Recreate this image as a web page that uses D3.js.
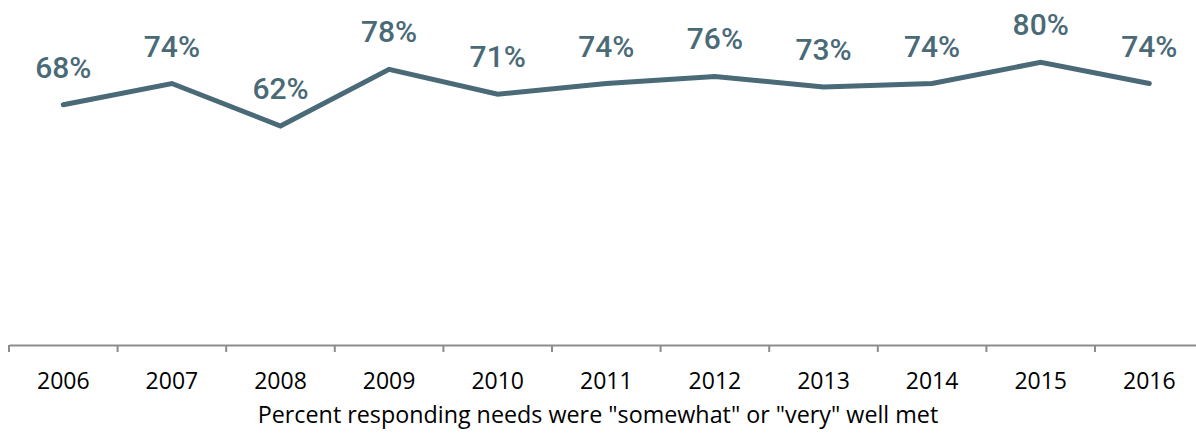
<!DOCTYPE html>
<html>
<head>
<meta charset="utf-8">
<script src="https://cdn.jsdelivr.net/npm/d3@7"></script>
<style>
  body { margin: 0; background: #fff; }
  svg { display: block; }
</style>
</head>
<body>
<div id="chart"></div>
<script>
// data
var years = ['2006', '2007', '2008', '2009', '2010', '2011', '2012', '2013', '2014', '2015', '2016']
var values = [68, 74, 62, 78, 71, 74, 76, 73, 74, 80, 74]
var valueLabels = ['68%', '74%', '62%', '78%', '71%', '74%', '76%', '73%', '74%', '80%', '74%']
var axisTitle = 'Percent responding needs were "somewhat" or "very" well met'

var width = 1196
var height = 435
var lineColor = '#4a6a77'

var svg = d3.select('#chart')
    .append('svg')
    .attr('width', width)
    .attr('height', height)

// category band scale, points sit in the middle of each band
var x = d3.scaleBand()
    .domain(years)
    .range([9, 9 + 11 * 108.6])
    .padding(0)

var y = d3.scaleLinear()
    .domain([0, 100])
    .range([345.5, -8.5])

var data = years.map(function (d, i) {
    return { year: d, value: values[i], label: valueLabels[i] }
})

//x axis
var axis = svg.append('g')
    .attr('transform', 'translate(0,' + 345 + ')')
    .call(d3.axisBottom(x).tickSize(0).tickSizeOuter(0).tickPadding(28))

axis.select('.domain')
    .attr('stroke', '#8c8c8c')
    .attr('stroke-width', 2)

axis.selectAll('.tick text')
    .attr('font-family', '"Open Sans", sans-serif')
    .attr('font-size', 23)
    .attr('fill', '#000')

// tick marks on band boundaries
axis.selectAll('line.sep')
    .data(years)
    .enter().append('line')
    .attr('class', 'sep')
    .attr('x1', function (d) { return x(d) })
    .attr('x2', function (d) { return x(d) })
    .attr('y1', 0)
    .attr('y2', 7)
    .attr('stroke', '#8c8c8c')
    .attr('stroke-width', 2)

//line
var line = d3.line()
    .x(function (d) { return x(d.year) + x.bandwidth() / 2 })
    .y(function (d) { return y(d.value) })

svg.append('path')
    .datum(data)
    .attr('d', line)
    .attr('fill', 'none')
    .attr('stroke', lineColor)
    .attr('stroke-width', 5)
    .attr('stroke-linejoin', 'miter')
    .attr('stroke-linecap', 'round')

//data labels
svg.selectAll('text.label')
    .data(data)
    .enter().append('text')
    .attr('class', 'label')
    .attr('x', function (d) { return x(d.year) + x.bandwidth() / 2 })
    .attr('y', function (d) { return y(d.value) - 27 })
    .attr('text-anchor', 'middle')
    .attr('font-family', 'Roboto, sans-serif')
    .attr('font-weight', 500)
    .attr('font-size', 30)
    .attr('fill', lineColor)
    .text(function (d) { return d.label })

//axis title
svg.append('text')
    .attr('x', 598)
    .attr('y', 423)
    .attr('text-anchor', 'middle')
    .attr('font-family', '"Open Sans", sans-serif')
    .attr('font-size', 23.3)
    .attr('fill', '#000')
    .text(axisTitle)
</script>
</body>
</html>
